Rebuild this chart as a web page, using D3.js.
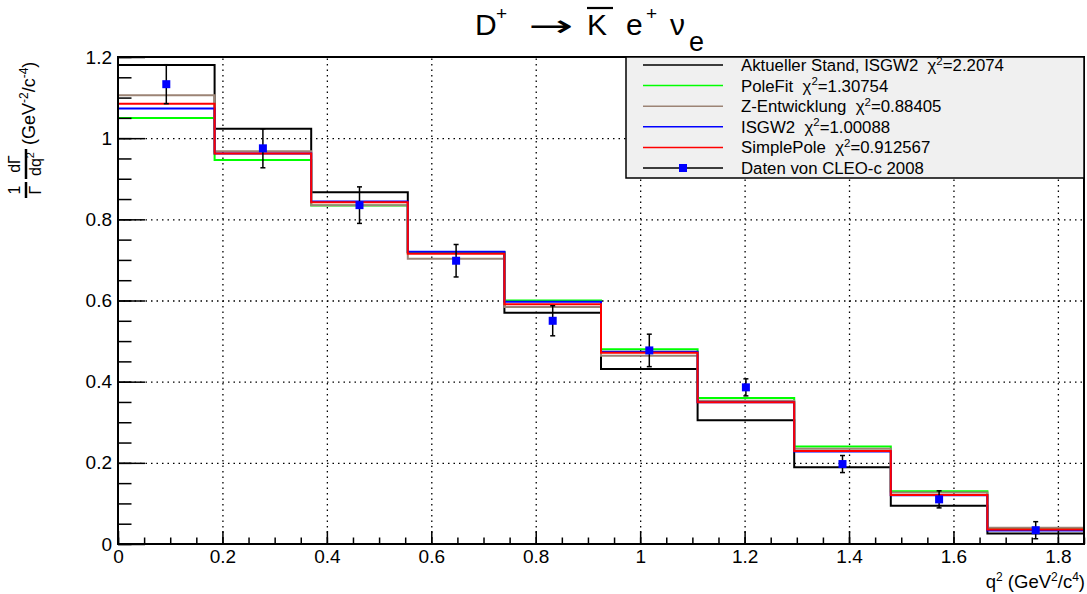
<!DOCTYPE html>
<html>
<head>
<meta charset="utf-8">
<title>D+ -> K e nu</title>
<script src="https://d3js.org/d3.v7.min.js" charset="utf-8"></script>
<style>
  body { margin: 0; background: #fff; }
  svg { display: block; font-family: "Liberation Sans", Arial, sans-serif; }
  text { white-space: pre; }
</style>
</head>
<body>
<div id="chart"></div>

<script type="text/javascript">
// bin edges in q^2 (GeV^2/c^4)
var binEdges = [0, 0.185, 0.37, 0.555, 0.74, 0.925, 1.11, 1.295, 1.48, 1.665, 1.85];

// model curves, one value per bin
var aktuellerStand = [1.180, 1.023, 0.867, 0.719, 0.570, 0.431, 0.305, 0.189, 0.094, 0.026];
var poleFit        = [1.050, 0.946, 0.834, 0.718, 0.600, 0.480, 0.360, 0.240, 0.130, 0.038];
var zEntwicklung   = [1.106, 0.968, 0.835, 0.703, 0.584, 0.464, 0.353, 0.235, 0.127, 0.040];
var isgw2          = [1.073, 0.962, 0.844, 0.720, 0.597, 0.474, 0.349, 0.228, 0.120, 0.033];
var simplePole     = [1.085, 0.962, 0.842, 0.715, 0.591, 0.471, 0.349, 0.229, 0.121, 0.036];

// CLEO-c 2008 data points (bin centres)
var cleoX   = [0.0925, 0.2775, 0.4625, 0.6475, 0.8325, 1.0175, 1.2025, 1.3875, 1.5725, 1.7575];
var cleoY   = [1.133, 0.975, 0.835, 0.698, 0.550, 0.477, 0.386, 0.197, 0.110, 0.034];
var cleoErr = [0.048, 0.048, 0.045, 0.040, 0.037, 0.040, 0.021, 0.021, 0.021, 0.021];

var legendLabels = [
  ["Aktueller Stand, ISGW2  ", "2.2074"],
  ["PoleFit  ", "1.30754"],
  ["Z-Entwicklung  ", "0.88405"],
  ["ISGW2  ", "1.00088"],
  ["SimplePole  ", "0.912567"]
];

var W = 1087, H = 594;
var fx0 = 118, fx1 = 1084, fy0 = 57, fy1 = 544;

var svg = d3.select('#chart').append('svg')
    .attr('width', W)
    .attr('height', H);

var x = d3.scaleLinear().domain([0, 1.85]).range([fx0, fx1]);
var y = d3.scaleLinear().domain([0, 1.2]).range([fy1, fy0]);

// grid (dotted)
var gx = svg.append('g')
    .attr('transform', 'translate(0,' + fy1 + ')')
    .call(d3.axisBottom(x).tickValues(d3.range(0.2, 1.81, 0.2)).tickSize(-(fy1 - fy0)).tickFormat(''));
var gy = svg.append('g')
    .attr('transform', 'translate(' + fx0 + ',0)')
    .call(d3.axisLeft(y).tickValues(d3.range(0.2, 1.01, 0.2)).tickSize(-(fx1 - fx0)).tickFormat(''));
[gx, gy].forEach(function(g) {
  g.select('.domain').remove();
  g.selectAll('line').attr('stroke', '#000').attr('stroke-width', 1.3).attr('stroke-dasharray', '1.5,4');
});

// histograms
function histPoints(vals) {
  var p = [[binEdges[0], 0]];
  vals.forEach(function(v, i) {
    p.push([binEdges[i], v]);
    p.push([binEdges[i + 1], v]);
  });
  p.push([binEdges[binEdges.length - 1], 0]);
  return p;
}
var line = d3.line().x(function(d) { return x(d[0]); }).y(function(d) { return y(d[1]); });

var series = [
  { vals: aktuellerStand, color: '#000000' },
  { vals: poleFit,        color: '#00ff00' },
  { vals: zEntwicklung,   color: '#9c8475' },
  { vals: isgw2,          color: '#0000ff' },
  { vals: simplePole,     color: '#ff0000' }
];

svg.append('g').selectAll('path')
    .data(series)
    .enter()
    .append('path')
    .attr('d', function(s) { return line(histPoints(s.vals)); })
    .attr('fill', 'none')
    .attr('stroke', function(s) { return s.color; })
    .attr('stroke-width', 2);

// data points with error bars
var pts = svg.append('g').selectAll('g')
    .data(cleoX)
    .enter()
    .append('g');
pts.append('line')
    .attr('x1', function(d) { return x(d); })
    .attr('x2', function(d) { return x(d); })
    .attr('y1', function(d, i) { return y(cleoY[i] - cleoErr[i]); })
    .attr('y2', function(d, i) { return y(cleoY[i] + cleoErr[i]); })
    .attr('stroke', '#000').attr('stroke-width', 1.5);
[-1, 1].forEach(function(sgn) {
  pts.append('line')
      .attr('x1', function(d) { return x(d) - 2.5; })
      .attr('x2', function(d) { return x(d) + 2.5; })
      .attr('y1', function(d, i) { return y(cleoY[i] + sgn * cleoErr[i]); })
      .attr('y2', function(d, i) { return y(cleoY[i] + sgn * cleoErr[i]); })
      .attr('stroke', '#000').attr('stroke-width', 1.5);
});
pts.append('rect')
    .attr('x', function(d) { return x(d) - 4; })
    .attr('y', function(d, i) { return y(cleoY[i]) - 4; })
    .attr('width', 8).attr('height', 8)
    .attr('fill', '#0000ff');

// axes: ticks point inward like ROOT
function styleAxis(g) {
  g.select('.domain').remove();
  g.selectAll('line').attr('stroke', '#000').attr('stroke-width', 1.5);
  g.selectAll('text').attr('font-size', 19).attr('fill', '#000')
      .attr('font-family', '"Liberation Sans", Arial, sans-serif');
}
var fmt = d3.format('~g');
svg.append('g')
    .attr('transform', 'translate(0,' + fy1 + ')')
    .call(d3.axisBottom(x).tickValues(d3.range(0, 1.851, 0.05)).tickSize(-6.5).tickFormat(''))
    .call(styleAxis);
svg.append('g')
    .attr('transform', 'translate(0,' + fy1 + ')')
    .call(d3.axisBottom(x).tickValues(d3.range(0, 1.81, 0.2)).tickSize(-13).tickPadding(6).tickFormat(fmt))
    .call(styleAxis);
svg.append('g')
    .attr('transform', 'translate(' + fx0 + ',0)')
    .call(d3.axisLeft(y).tickValues(d3.range(0, 1.201, 0.05)).tickSize(-13.5).tickFormat(''))
    .call(styleAxis);
svg.append('g')
    .attr('transform', 'translate(' + fx0 + ',0)')
    .call(d3.axisLeft(y).tickValues(d3.range(0, 1.201, 0.2)).tickSize(-27).tickPadding(6).tickFormat(fmt))
    .call(styleAxis);

// frame
svg.append('rect')
    .attr('x', fx0).attr('y', fy0)
    .attr('width', fx1 - fx0).attr('height', fy1 - fy0)
    .attr('fill', 'none').attr('stroke', '#000').attr('stroke-width', 2);

// legend
var lg = svg.append('g');
lg.append('rect')
    .attr('x', 626).attr('y', fy0)
    .attr('width', fx1 - 626).attr('height', 121)
    .attr('fill', '#f0f0f0').attr('stroke', '#000').attr('stroke-width', 1.5);
var rowY = function(i) { return 65 + i * 20.6; };
legendLabels.forEach(function(lab, i) {
  lg.append('line')
      .attr('x1', 643).attr('x2', 723)
      .attr('y1', rowY(i)).attr('y2', rowY(i))
      .attr('stroke', series[i].color).attr('stroke-width', 1.5);
  var t = lg.append('text')
      .attr('x', 741).attr('y', rowY(i) + 6)
      .attr('font-size', 16.8);
  t.append('tspan').text(lab[0] + '\u03C7');
  t.append('tspan').attr('font-size', 11.5).attr('dy', -6.5).text('2');
  t.append('tspan').attr('dy', 6.5).text('=' + lab[1]);
});
var ly = rowY(5);
lg.append('line').attr('x1', 643).attr('x2', 723).attr('y1', ly).attr('y2', ly)
    .attr('stroke', '#000').attr('stroke-width', 1.5);
lg.append('rect').attr('x', 679).attr('y', ly - 4).attr('width', 8).attr('height', 8).attr('fill', '#0000ff');
lg.append('text').attr('x', 741).attr('y', ly + 6).attr('font-size', 16.8).text('Daten von CLEO-c 2008');

// title
var tg = svg.append('g').attr('font-size', 30);
tg.append('text').attr('x', 475).attr('y', 35).text('D');
tg.append('text').attr('x', 496).attr('y', 20).attr('font-size', 19).text('+');
tg.append('text').attr('x', 528).attr('y', 36).attr('textLength', 45).attr('lengthAdjust', 'spacingAndGlyphs')
    .attr('font-family', '"DejaVu Sans", sans-serif').text('\u2192');
tg.append('text').attr('x', 587).attr('y', 35).text('K');
tg.append('line').attr('x1', 587).attr('x2', 613).attr('y1', 8).attr('y2', 8)
    .attr('stroke', '#000').attr('stroke-width', 2.2);
tg.append('text').attr('x', 626).attr('y', 35).text('e');
tg.append('text').attr('x', 646).attr('y', 20).attr('font-size', 19).text('+');
tg.append('text').attr('x', 670).attr('y', 35).text('\u03BD');
tg.append('text').attr('x', 689).attr('y', 51).attr('font-size', 27).text('e');

// x axis title
var xt = svg.append('text').attr('x', 1085).attr('y', 588).attr('text-anchor', 'end').attr('font-size', 18.5);
xt.append('tspan').text('q');
xt.append('tspan').attr('font-size', 12).attr('dy', -7).text('2');
xt.append('tspan').attr('dy', 7).text(' (GeV');
xt.append('tspan').attr('font-size', 12).attr('dy', -7).text('2');
xt.append('tspan').attr('dy', 7).text('/c');
xt.append('tspan').attr('font-size', 12).attr('dy', -7).text('4');
xt.append('tspan').attr('dy', 7).text(')');

// y axis title (rotated, with fractions)
var yt = svg.append('g').attr('transform', 'translate(26,199) rotate(-90)');
function frac(g, a0, a1, num, den) {
  var c = (a0 + a1) / 2;
  g.append('line').attr('x1', a0).attr('x2', a1).attr('y1', 0).attr('y2', 0)
      .attr('stroke', '#000').attr('stroke-width', 2.5);
  var n = g.append('text').attr('x', c).attr('y', -6).attr('text-anchor', 'middle').attr('font-size', 16);
  num(n);
  var d = g.append('text').attr('x', c).attr('y', 15).attr('text-anchor', 'middle').attr('font-size', 16);
  den(d);
}
frac(yt, 1, 17, function(t) { t.text('1'); }, function(t) { t.text('\u0393'); });
frac(yt, 20, 50, function(t) { t.text('d\u0393'); }, function(t) {
  t.append('tspan').text('dq');
  t.append('tspan').attr('font-size', 11).attr('dy', -7).text('2');
});
var yl = yt.append('text').attr('x', 54).attr('y', 9).attr('font-size', 18);
yl.append('tspan').text('(GeV');
yl.append('tspan').attr('font-size', 12).attr('dy', -7).text('-2');
yl.append('tspan').attr('dy', 7).text('/c');
yl.append('tspan').attr('font-size', 12).attr('dy', -7).text('-4');
yl.append('tspan').attr('dy', 7).text(')');
</script>
</body>
</html>
